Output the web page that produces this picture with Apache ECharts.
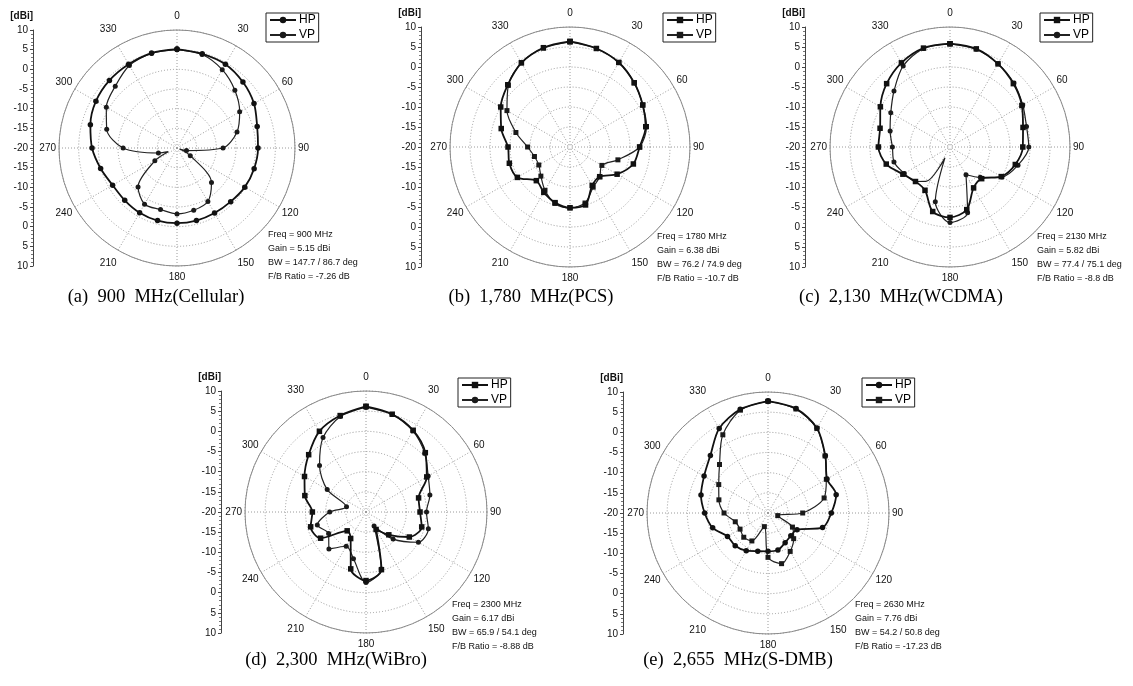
<!DOCTYPE html>
<html>
<head>
<meta charset="utf-8">
<script src="https://cdn.jsdelivr.net/npm/echarts@6/dist/echarts.min.js"></script>
<style>
  html, body { margin: 0; padding: 0; background: #fff; }
  #chart { width: 1133px; height: 686px; }
</style>
</head>
<body>
<div id="chart"></div>
<script>
// Measured radiation patterns: [angle (deg), gain (dBi)]
const hp900 = [[0,5.15],[15,4.8],[30,4.6],[45,3.7],[60,2.6],[75,1.1],[90,0.6],[105,0.3],[120,-0.1],[135,-0.7],[150,-0.9],[165,-0.9],[180,-0.9],[195,-0.9],[210,-1.0],[225,-1.2],[240,-1.1],[255,0.1],[270,1.6],[285,2.8],[300,3.8],[315,4.3],[330,4.6],[345,5.0]];
const vp900 = [[0,5.0],[15,4.6],[30,3.0],[45,0.8],[60,-1.6],[75,-4.2],[90,-8.3],[105,-17.5],[112,-19.3],[120,-16.1],[135,-7.6],[150,-4.3],[165,-3.6],[180,-3.25],[195,-3.8],[210,-3.5],[225,-6.0],[240,-13.5],[247,-17.6],[255,-15.1],[270,-6.3],[285,-1.5],[300,0.75],[315,2.2],[330,4.2],[345,4.9]];

const hp1780 = [[0,6.38],[15,5.5],[30,4.4],[45,2.7],[60,1.0],[75,-0.4],[90,-2.6],[105,-3.6],[120,-6.4],[135,-9.5],[150,-8.9],[165,-5.0],[180,-4.8],[195,-5.6],[210,-6.9],[225,-8.1],[240,-4.8],[255,-4.3],[270,-4.5],[285,-2.2],[300,0.0],[315,2.0],[330,4.3],[345,5.7]];
const vp1780 = [[0,6.3],[15,5.5],[30,4.4],[45,2.7],[60,1.0],[75,-0.2],[90,-2.6],[105,-7.6],[120,-10.8],[135,-9.5],[150,-8.4],[165,-5.5],[180,-4.8],[195,-5.4],[210,-7.5],[225,-9.7],[240,-11.0],[255,-10.8],[270,-9.4],[285,-6.0],[300,-1.8],[315,1.8],[330,4.3],[345,5.6]];

const hp2130 = [[0,5.82],[15,5.4],[30,4.0],[45,2.4],[60,0.75],[75,-1.1],[90,-1.8],[105,-3.1],[120,-5.2],[135,-8.8],[150,-8.2],[165,-3.8],[180,-2.4],[195,-3.3],[210,-7.5],[225,-7.8],[240,-6.4],[255,-3.5],[270,-2.1],[285,-1.9],[300,0.1],[315,2.4],[330,4.3],[345,5.6]];
const vp2130 = [[0,5.8],[15,5.3],[30,4.0],[45,2.6],[60,1.0],[75,-0.2],[90,-0.3],[105,-2.4],[120,-5.0],[135,-9.3],[150,-12.0],[165,-3.0],[180,-1.1],[195,-5.8],[205,-17.0],[215,-9.5],[225,-7.8],[240,-6.8],[255,-5.5],[270,-5.6],[285,-4.5],[300,-2.9],[315,-0.2],[330,3.4],[345,5.5]];

const hp2300 = [[0,6.17],[15,5.1],[30,3.4],[45,0.8],[60,-2.6],[75,-6.5],[90,-6.6],[105,-5.7],[120,-7.6],[135,-12.0],[150,-15.0],[165,-5.2],[180,-3.0],[195,-5.4],[210,-12.4],[225,-13.4],[240,-7.0],[255,-5.8],[270,-6.7],[285,-4.3],[300,-2.4],[315,0.1],[330,3.1],[345,4.75]];
const vp2300 = [[0,6.0],[15,5.0],[30,3.2],[45,0.6],[60,-2.2],[75,-3.6],[90,-5.0],[105,-4.0],[120,-5.0],[135,-10.5],[150,-16.0],[165,-5.4],[180,-2.5],[195,-8.0],[210,-10.2],[225,-7.0],[240,-9.3],[255,-7.5],[270,-11.0],[285,-15.0],[300,-8.9],[315,-3.7],[330,1.3],[345,4.5]];

const hp2630 = [[0,7.76],[15,6.8],[30,4.3],[45,0.1],[60,-3.1],[75,-2.5],[90,-4.3],[105,-6.0],[120,-11.7],[135,-12.0],[150,-11.5],[165,-10.5],[180,-10.5],[195,-10.2],[210,-9.2],[225,-8.5],[240,-8.4],[255,-5.8],[270,-4.3],[285,-2.8],[300,-1.7],[315,0.2],[330,4.2],[345,6.6]];
const vp2630 = [[0,7.7],[15,6.7],[30,4.2],[45,0.0],[60,-3.3],[75,-5.6],[90,-11.4],[105,-17.5],[120,-13.0],[135,-11.0],[150,-9.0],[165,-7.0],[180,-9.0],[195,-16.5],[210,-12.0],[225,-11.5],[240,-12.0],[255,-11.6],[270,-9.1],[285,-7.4],[300,-5.9],[315,-3.0],[330,2.4],[345,6.4]];

// Per-plot annotation lines and captions
const notes900  = ['Freq = 900 MHz', 'Gain = 5.15 dBi', 'BW = 147.7 / 86.7 deg', 'F/B Ratio = -7.26 dB'];
const notes1780 = ['Freq = 1780 MHz', 'Gain = 6.38 dBi', 'BW = 76.2 / 74.9 deg', 'F/B Ratio = -10.7 dB'];
const notes2130 = ['Freq = 2130 MHz', 'Gain = 5.82 dBi', 'BW = 77.4 / 75.1 deg', 'F/B Ratio = -8.8 dB'];
const notes2300 = ['Freq = 2300 MHz', 'Gain = 6.17 dBi', 'BW = 65.9 / 54.1 deg', 'F/B Ratio = -8.88 dB'];
const notes2630 = ['Freq = 2630 MHz', 'Gain = 7.76 dBi', 'BW = 54.2 / 50.8 deg', 'F/B Ratio = -17.23 dB'];
const captions = ['(a)  900  MHz(Cellular)', '(b)  1,780  MHz(PCS)', '(c)  2,130  MHz(WCDMA)', '(d)  2,300  MHz(WiBro)', '(e)  2,655  MHz(S-DMB)'];

// Radial scale: centre = -20 dBi, outer ring = 10 dBi
const R_MIN = -20, R_MAX = 10, R_STEP = 5;

const SANS = '"Liberation Sans", Arial, sans-serif';
const SERIF = '"Liberation Serif", "Times New Roman", serif';

// Layout of the five panels
const panels = [
  { hp: hp900,  vp: vp900,  tag: '900',  hpSym: 'circle', vpSym: 'circle', cx: 177, cy: 148, r: 118, axisX: 33,  legend: [266, 13],  notes: notes900,  noteXY: [268, 228], cap: [156, 297] },
  { hp: hp1780, vp: vp1780, tag: '1780', hpSym: 'rect',   vpSym: 'rect',   cx: 570, cy: 147, r: 120, axisX: 421, legend: [663, 13],  notes: notes1780, noteXY: [657, 230], cap: [531, 297] },
  { hp: hp2130, vp: vp2130, tag: '2130', hpSym: 'rect',   vpSym: 'circle', cx: 950, cy: 147, r: 120, axisX: 805, legend: [1040, 13], notes: notes2130, noteXY: [1037, 230], cap: [901, 297] },
  { hp: hp2300, vp: vp2300, tag: '2300', hpSym: 'rect',   vpSym: 'circle', cx: 366, cy: 512, r: 121, axisX: 221, legend: [458, 378], notes: notes2300, noteXY: [452, 598], cap: [336, 660] },
  { hp: hp2630, vp: vp2630, tag: '2630', hpSym: 'circle', vpSym: 'rect',   cx: 768, cy: 513, r: 121, axisX: 623, legend: [862, 378], notes: notes2630, noteXY: [855, 598], cap: [738, 660] }
];

// [angle, dB] -> polar [radius, angle], closed at 360 deg
function toPolar(arr) {
  const out = arr.map(p => [p[1], p[0]]);
  out.push([arr[0][1], 360]);
  return out;
}
function markerSize(size) {
  return function (val) { return val[1] % 15 === 0 ? size : 0; };
}
// Angle labels sit closer to the ring at the sides than at top and bottom
function angleLabel(v) {
  if (v >= 360) return '';
  if (v === 0) return '{top|0}';
  if (v === 180) return '{bot|180}';
  if (v === 30 || v === 330) return '{up|' + v + '}';
  if (v === 150 || v === 210) return '{dn|' + v + '}';
  return String(v);
}
const angleRich = {
  top: { fontSize: 10, fontFamily: SANS, color: '#111', padding: [6, 0, 6, 0] },
  bot: { fontSize: 10, fontFamily: SANS, color: '#111', padding: [3, 0, 3, 0] },
  up:  { fontSize: 10, fontFamily: SANS, color: '#111', padding: [9, 0, 9, 0] },
  dn:  { fontSize: 10, fontFamily: SANS, color: '#111', padding: [5, 0, 5, 0] }
};

const polar = [], angleAxis = [], radiusAxis = [], grid = [], xAxis = [], yAxis = [], legend = [], series = [], graphic = [];

panels.forEach(function (p, i) {
  polar.push({ center: [p.cx, p.cy], radius: p.r });
  angleAxis.push({
    polarIndex: i, type: 'value', min: 0, max: 360, interval: 30, startAngle: 90, clockwise: true,
    axisLine: { show: true, lineStyle: { color: '#8a8a8a', width: 1 } },
    axisTick: { show: false },
    axisLabel: { margin: 3, fontSize: 10, color: '#111', fontFamily: SANS, formatter: angleLabel, rich: angleRich },
    splitLine: { show: true, lineStyle: { color: '#9a9a9a', type: [1, 2], width: 1 } }
  });
  radiusAxis.push({
    polarIndex: i, type: 'value', min: R_MIN, max: R_MAX, interval: R_STEP,
    axisLine: { show: false }, axisTick: { show: false }, axisLabel: { show: false },
    splitLine: { show: true, lineStyle: { color: '#9a9a9a', type: [1, 2], width: 1 } }
  });

  // Linear dBi scale drawn to the left of each polar plot
  grid.push({ left: p.axisX, top: p.cy - p.r, width: 1, height: 2 * p.r });
  xAxis.push({ gridIndex: i, type: 'value', min: 0, max: 1, show: false });
  yAxis.push({
    gridIndex: i, type: 'value', position: 'left', min: -30, max: 30, interval: 5,
    name: '[dBi]', nameLocation: 'end', nameGap: 9,
    nameTextStyle: { fontSize: 10, fontWeight: 'bold', color: '#111', align: 'right', fontFamily: SANS },
    axisLine: { show: true, onZero: false, lineStyle: { color: '#444', width: 1 } },
    axisTick: { show: true, inside: false, length: 3, lineStyle: { color: '#444' } },
    minorTick: { show: true, splitNumber: 5, length: 2, lineStyle: { color: '#777' } },
    axisLabel: { fontSize: 10, margin: 5, color: '#111', fontFamily: SANS, formatter: v => String(Math.abs(v) + R_MIN) },
    splitLine: { show: false }
  });

  const hpName = 'HP ' + p.tag, vpName = 'VP ' + p.tag;
  legend.push({
    data: [hpName, vpName], left: p.legend[0], top: p.legend[1], orient: 'vertical',
    borderColor: '#222', borderWidth: 1, padding: [1, 3, 1, 3], itemGap: 3,
    itemWidth: 26, itemHeight: 8, selectedMode: false,
    formatter: n => n.split(' ')[0],
    textStyle: { fontSize: 12, color: '#000', fontFamily: SANS, padding: [0, 0, 0, -2] }
  });

  series.push({
    type: 'line', name: hpName, coordinateSystem: 'polar', polarIndex: i,
    data: toPolar(p.hp), smooth: 0.3, symbol: p.hpSym, symbolSize: markerSize(5.5),
    lineStyle: { color: '#111', width: 1.8 }, itemStyle: { color: '#111' }, z: 3
  });
  series.push({
    type: 'line', name: vpName, coordinateSystem: 'polar', polarIndex: i,
    data: toPolar(p.vp), smooth: 0.3, symbol: p.vpSym, symbolSize: markerSize(5),
    lineStyle: { color: '#222', width: 1.2 }, itemStyle: { color: '#1a1a1a' }, z: 2
  });

  graphic.push({
    type: 'text', left: p.noteXY[0], top: p.noteXY[1],
    style: { text: p.notes.join('\n'), font: '9px ' + SANS, fill: '#111', lineHeight: 14 }
  });
  graphic.push({
    type: 'text', x: p.cap[0], y: p.cap[1],
    style: { text: captions[i], font: '18.5px ' + SERIF, fill: '#000', align: 'center', verticalAlign: 'middle' }
  });
});

const chart = echarts.init(document.getElementById('chart'), null, { renderer: 'canvas' });
chart.setOption({
  animation: false,
  backgroundColor: '#fff',
  polar, angleAxis, radiusAxis, grid, xAxis, yAxis, legend, series, graphic
});
</script>
</body>
</html>
